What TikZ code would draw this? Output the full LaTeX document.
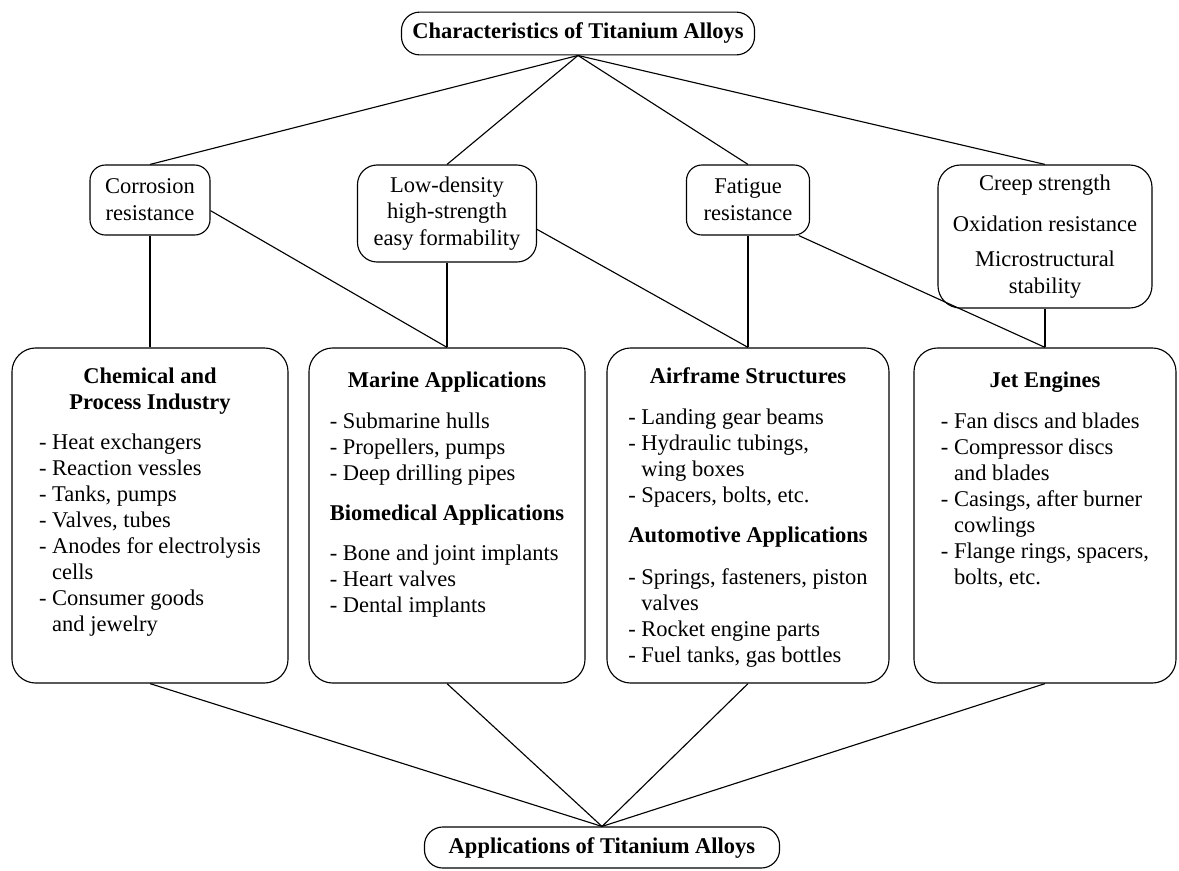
\documentclass[tikz,border=0pt]{standalone}
\usepackage{fontspec}
\setmainfont{Liberation Serif}
\usetikzlibrary{positioning}
\newcommand{\hd}[1]{\multicolumn{1}{@{}c@{}}{\bfseries #1}}
\newcommand{\ind}{\phantom{- }}

\begin{document}
\begin{tikzpicture}[x=0.025cm, y=-0.025cm, line width=0.8pt,
        main/.style = {draw, rounded corners=11pt, align=center, font=\fontsize{16}{19}\selectfont},
        head/.style = {draw, rounded corners=13pt, minimum height=1.07cm, font=\fontsize{16}{19}\selectfont\bfseries},
        field/.style = {draw, rounded corners=17pt, minimum height=8.375cm},
        list/.style = {inner sep=0pt, font=\fontsize{16}{18.5}\selectfont}]
        \useasboundingbox (0,0) rectangle (1179,870);

        \node[head, minimum width=8.825cm] (top) at (578,33.5) {Characteristics of Titanium Alloys};
        \node[head, minimum width=8.875cm, minimum height=1.025cm] (bot) at (602,847.5) {Applications of Titanium Alloys};

        \node[main, minimum width=3cm, minimum height=1.75cm] (corr) at (150,200) {Corrosion\\resistance};
        \node[main, minimum width=4.475cm, minimum height=2.425cm, rounded corners=14pt] (lowd) at (447,213.5) {Low-density\\high-strength\\easy formability};
        \node[main, minimum width=3.075cm, minimum height=1.75cm] (fati) at (748,200) {Fatigue\\resistance};
        \node[main, minimum width=5.35cm, minimum height=3.575cm, rounded corners=16pt] (creep) at (1045,236.5) {Creep strength\\[10pt]Oxidation resistance\\[6pt]Microstructural\\stability};

        \node[field, minimum width=6.9cm] (chem) at (150,515.5) {};
        \node[field, minimum width=6.9cm] (mar) at (447,515.5) {};
        \node[field, minimum width=7.05cm] (air) at (748,515.5) {};
        \node[field, minimum width=6.55cm] (jet) at (1045,515.5) {};

        \node[list, below=12pt of chem.north] (chemtxt) {\begin{tabular}{@{}l@{}}
                \hd{Chemical and}\\
                \hd{Process Industry}\\[10pt]
                - Heat exchangers\\
                - Reaction vessles\\
                - Tanks, pumps\\
                - Valves, tubes\\
                - Anodes for electrolysis\\
                \ind cells\\
                - Consumer goods\\
                \ind and jewelry
            \end{tabular}};
        \node[list, below=15.5pt of mar.north] (martxt) {\begin{tabular}{@{}l@{}}
                \hd{Marine Applications}\\[10pt]
                - Submarine hulls\\
                - Propellers, pumps\\
                - Deep drilling pipes\\[10pt]
                \hd{Biomedical Applications}\\[10pt]
                - Bone and joint implants\\
                - Heart valves\\
                - Dental implants
            \end{tabular}};
        \node[list, below=12pt of air.north] (airtxt) {\begin{tabular}{@{}l@{}}
                \hd{Airframe Structures}\\[11pt]
                - Landing gear beams\\
                - Hydraulic tubings,\\
                \ind wing boxes\\
                - Spacers, bolts, etc.\\[10pt]
                \hd{Automotive Applications}\\[11pt]
                - Springs, fasteners, piston\\
                \ind valves\\
                - Rocket engine parts\\
                - Fuel tanks, gas bottles
            \end{tabular}};
        \node[list, below=15.5pt of jet.north] (jettxt) {\begin{tabular}{@{}l@{}}
                \hd{Jet Engines}\\[10pt]
                - Fan discs and blades\\
                - Compressor discs\\
                \ind and blades\\
                - Casings, after burner\\
                \ind cowlings\\
                - Flange rings, spacers,\\
                \ind bolts, etc.
            \end{tabular}};

        \draw (top.south) -- (corr.north);
        \draw (top.south) -- (lowd.north);
        \draw (top.south) -- (fati.north);
        \draw (top.south) -- (creep.north);

        \draw (corr.south) -- (chem.north);
        \draw (corr.-10) -- (mar.north);
        \draw (lowd.south) -- (mar.north);
        \draw (lowd.-10) -- (air.north);
        \draw (fati.south) -- (air.north);
        \draw (fati.-35) -- (jet.north);
        \draw (creep.south) -- (jet.north);

        \draw (chem.south) -- (bot.north);
        \draw (mar.south) -- (bot.north);
        \draw (air.south) -- (bot.north);
        \draw (jet.south) -- (bot.north);

    \end{tikzpicture}
\end{document}
